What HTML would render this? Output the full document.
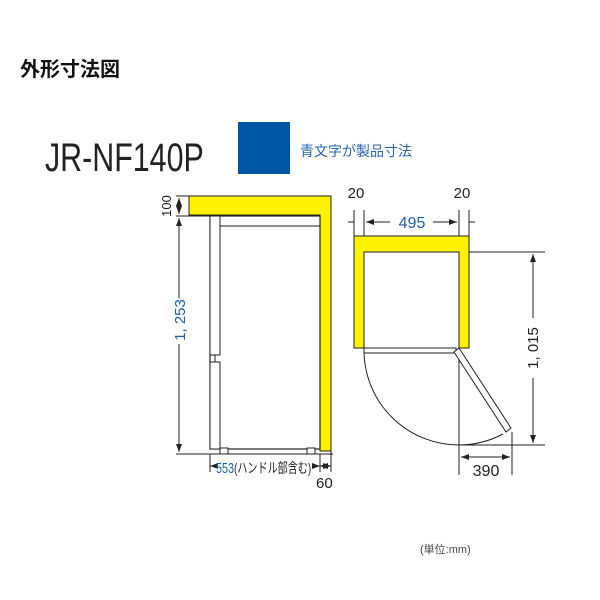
<!DOCTYPE html>
<html><head><meta charset="utf-8"><style>
html,body{margin:0;padding:0;background:#fff;width:600px;height:600px;overflow:hidden}
svg{display:block}
text{font-family:"Liberation Sans","Noto Sans CJK JP",sans-serif}
</style></head><body>
<svg width="600" height="600" viewBox="0 0 600 600" xmlns="http://www.w3.org/2000/svg">
<defs>
<marker id="a" markerWidth="8" markerHeight="6" refX="8" refY="3" orient="auto" markerUnits="userSpaceOnUse"><path d="M0,0 L8,3 L0,6 Z" fill="#222"/></marker>
<marker id="b" markerWidth="8" markerHeight="6" refX="0" refY="3" orient="auto" markerUnits="userSpaceOnUse"><path d="M8,0 L0,3 L8,6 Z" fill="#222"/></marker>
</defs>
<text x="20" y="76" font-size="20" font-weight="bold" fill="#111">外形寸法図</text>
<text x="45" y="171" font-size="40" fill="#222" transform="translate(45 0) scale(0.76 1) translate(-45 0)">JR-NF140P</text>
<rect x="238" y="122" width="52" height="52" fill="#0055a5"/>
<text x="300" y="156" font-size="14" fill="#2a66ad">青文字が製品寸法</text>

<!-- Left side view -->
<path d="M189,196 H331 V451 H320 V215 H189 Z" fill="#fff200" stroke="#222" stroke-width="1"/>
<rect x="210" y="216" width="110" height="233" fill="#fff" stroke="#222" stroke-width="1.2"/>
<line x1="210" y1="226" x2="320" y2="226" stroke="#222"/>
<rect x="210" y="216" width="10" height="139" fill="#fff" stroke="#222"/>
<rect x="210" y="362" width="10" height="87" fill="#fff" stroke="#222"/>
<line x1="215" y1="355" x2="215" y2="362" stroke="#222"/>
<rect x="220" y="448" width="8" height="6" fill="#fff" stroke="#222"/>
<rect x="307" y="448" width="8" height="6" fill="#fff" stroke="#222"/>
<line x1="176" y1="454" x2="333" y2="454" stroke="#222"/>
<line x1="176" y1="196" x2="189" y2="196" stroke="#222"/>
<line x1="176" y1="216" x2="210" y2="216" stroke="#222"/>
<line x1="179" y1="198" x2="179" y2="214" stroke="#222" marker-start="url(#b)" marker-end="url(#a)"/>
<line x1="179" y1="218" x2="179" y2="298" stroke="#222" marker-start="url(#b)"/>
<line x1="179" y1="344" x2="179" y2="452" stroke="#222" marker-end="url(#a)"/>
<text transform="translate(166 206) rotate(-90)" font-size="13" fill="#222" text-anchor="middle" dy="5">100</text>
<text transform="translate(180 320) rotate(-90)" font-size="15" fill="#1e5fae" text-anchor="middle" dy="5">1, 253</text>
<line x1="210" y1="454" x2="210" y2="472" stroke="#222"/>
<line x1="320" y1="454" x2="320" y2="472" stroke="#222"/>
<line x1="331" y1="451" x2="331" y2="472" stroke="#222"/>
<line x1="210" y1="466" x2="214" y2="466" stroke="#222" marker-start="url(#b)"/>
<line x1="315" y1="466" x2="320" y2="466" stroke="#222" marker-end="url(#a)"/>
<line x1="320" y1="466" x2="331" y2="466" stroke="#222" marker-start="url(#b)" marker-end="url(#a)"/>
<g transform="translate(216 0) scale(0.72 1)">
<text x="0" y="473" font-size="15" fill="#1e5fae">553<tspan fill="#222" font-size="14">(ハンドル部含む)</tspan></text>
</g>
<text x="316" y="488" font-size="15" fill="#222">60</text>

<!-- Right top view -->
<text x="356" y="198" font-size="15" fill="#222" text-anchor="middle">20</text>
<text x="462" y="198" font-size="15" fill="#222" text-anchor="middle">20</text>
<line x1="354" y1="210" x2="354" y2="236" stroke="#222"/>
<line x1="364" y1="210" x2="364" y2="236" stroke="#222"/>
<line x1="459" y1="210" x2="459" y2="236" stroke="#222"/>
<line x1="469" y1="210" x2="469" y2="236" stroke="#222"/>
<line x1="348" y1="222" x2="354" y2="222" stroke="#222"/>
<line x1="469" y1="222" x2="475" y2="222" stroke="#222"/>
<line x1="366" y1="222" x2="390" y2="222" stroke="#222" marker-start="url(#b)"/>
<line x1="433" y1="222" x2="457" y2="222" stroke="#222" marker-end="url(#a)"/>
<text x="412" y="228" font-size="16" fill="#1e5fae" text-anchor="middle">495</text>
<path d="M354,236 H469 V348 H459 V252 H364 V348 H354 Z" fill="#fff200" stroke="#222" stroke-width="1"/>
<line x1="469" y1="252" x2="545" y2="252" stroke="#222"/>
<rect x="364" y="348" width="92" height="5" fill="#fff" stroke="#222"/>
<line x1="459" y1="348" x2="459" y2="475" stroke="#222"/>
<polygon points="454,352 459,348 511,428 506,432" fill="#fff" stroke="#222"/>
<path d="M364,353 A95,95 0 0 0 459,445 A95,95 0 0 0 503,434" fill="none" stroke="#222"/>
<line x1="459" y1="445" x2="545" y2="445" stroke="#222"/>
<line x1="533" y1="254" x2="533" y2="318" stroke="#222" marker-start="url(#b)"/>
<line x1="533" y1="378" x2="533" y2="443" stroke="#222" marker-end="url(#a)"/>
<text transform="translate(533 348) rotate(-90)" font-size="15" fill="#222" text-anchor="middle" dy="5">1, 015</text>
<line x1="512" y1="432" x2="512" y2="475" stroke="#222"/>
<line x1="461" y1="457" x2="510" y2="457" stroke="#222" marker-start="url(#b)" marker-end="url(#a)"/>
<text x="486" y="476" font-size="16" fill="#222" text-anchor="middle">390</text>

<text x="420" y="553" font-size="11" fill="#444">(単位:mm)</text>
</svg>
</body></html>
